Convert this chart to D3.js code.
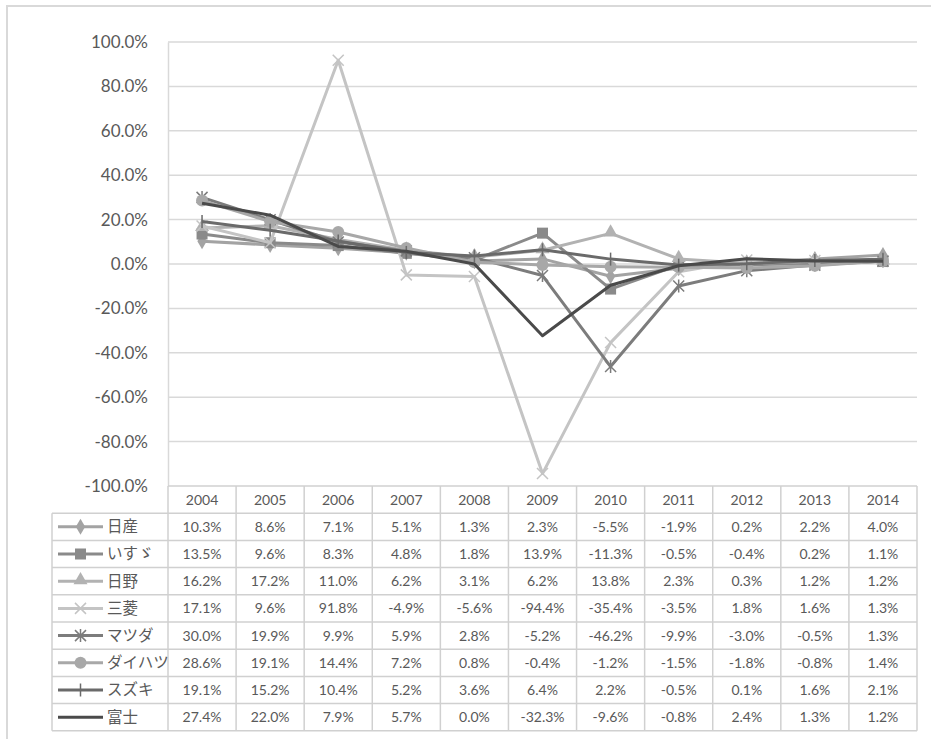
<!DOCTYPE html>
<html>
<head>
<meta charset="utf-8">
<script src="https://cdn.jsdelivr.net/npm/d3@7"></script>
<style>
  body { margin: 0; background: #fff; }
  text { font-family: "Lato", "Noto Sans CJK JP", sans-serif; fill: #595959; }
</style>
</head>
<body>
<script>
(function (d3) {
  "use strict";

  /***** Données *****/
  var years = ["2004", "2005", "2006", "2007", "2008", "2009", "2010", "2011", "2012", "2013", "2014"];
  var makers = ["日産", "いすゞ", "日野", "三菱", "マツダ", "ダイハツ", "スズキ", "富士"];
  var nissan   = [10.3, 8.6, 7.1, 5.1, 1.3, 2.3, -5.5, -1.9, 0.2, 2.2, 4.0];
  var isuzu    = [13.5, 9.6, 8.3, 4.8, 1.8, 13.9, -11.3, -0.5, -0.4, 0.2, 1.1];
  var hino     = [16.2, 17.2, 11.0, 6.2, 3.1, 6.2, 13.8, 2.3, 0.3, 1.2, 1.2];
  var mitsu    = [17.1, 9.6, 91.8, -4.9, -5.6, -94.4, -35.4, -3.5, 1.8, 1.6, 1.3];
  var mazda    = [30.0, 19.9, 9.9, 5.9, 2.8, -5.2, -46.2, -9.9, -3.0, -0.5, 1.3];
  var daihatsu = [28.6, 19.1, 14.4, 7.2, 0.8, -0.4, -1.2, -1.5, -1.8, -0.8, 1.4];
  var suzuki   = [19.1, 15.2, 10.4, 5.2, 3.6, 6.4, 2.2, -0.5, 0.1, 1.6, 2.1];
  var fuji     = [27.4, 22.0, 7.9, 5.7, 0.0, -32.3, -9.6, -0.8, 2.4, 1.3, 1.2];
  var yTicks = [100, 80, 60, 40, 20, 0, -20, -40, -60, -80, -100];

  var seriesValues = [nissan, isuzu, hino, mitsu, mazda, daihatsu, suzuki, fuji];
  var colors  = ["#a3a3a3", "#8a8a8a", "#b2b2b2", "#c4c4c4", "#7c7c7c", "#a8a8a8", "#6a6a6a", "#4a4a4a"];
  var markers = ["diamond", "square", "triangle", "x", "star", "circle", "plus", "none"];

  /***** Configuration *****/
  var width = 931, height = 739;
  var plot = { left: 168, right: 917, top: 42, bottom: 486 };
  var rowH = 27.2;
  var legendLeft = 52;

  var svg = d3.select("body").append("svg")
      .attr("width", width)
      .attr("height", height);

  // cadre extérieur
  svg.append("path")
      .attr("d", "M7,739 V6 H931")
      .attr("fill", "none")
      .attr("stroke", "#d9d9d9")
      .attr("stroke-width", 2);

  /***** Échelles *****/
  var xScale = d3.scaleBand().domain(years).range([plot.left, plot.right]);
  var yScale = d3.scaleLinear().domain([-100, 100]).range([plot.bottom, plot.top]);

  // grille
  svg.append("g").selectAll("line")
      .data(yTicks.filter(function (t) { return t !== -100; }))
      .join("line")
      .attr("x1", plot.left).attr("x2", plot.right)
      .attr("y1", function (d) { return yScale(d); })
      .attr("y2", function (d) { return yScale(d); })
      .attr("stroke", "#d9d9d9")
      .attr("stroke-width", 1.5);

  // axe Y
  var yAxis = d3.axisLeft(yScale)
      .tickValues(yTicks)
      .tickSize(0)
      .tickPadding(20)
      .tickFormat(function (d) { return d.toFixed(1) + "%"; });
  var yG = svg.append("g")
      .attr("transform", "translate(" + plot.left + ",0)")
      .call(yAxis);
  yG.select(".domain").attr("stroke", "#d9d9d9").attr("stroke-width", 1.5);
  yG.selectAll("text").style("font-size", "17px").attr("fill", "#595959");

  /***** Tableau de données *****/
  var table = svg.append("g");
  var lineC = "#d0d0d0";
  var tableBottom = plot.bottom + rowH * (makers.length + 1);

  // lignes horizontales
  for (var r = 0; r <= makers.length + 1; r++) {
    var yy = plot.bottom + r * rowH;
    table.append("line")
        .attr("x1", r === 0 ? plot.left : legendLeft).attr("x2", plot.right)
        .attr("y1", yy).attr("y2", yy)
        .attr("stroke", lineC).attr("stroke-width", 1.5);
  }
  // lignes verticales
  table.append("line")
      .attr("x1", legendLeft).attr("x2", legendLeft)
      .attr("y1", plot.bottom + rowH).attr("y2", tableBottom)
      .attr("stroke", lineC).attr("stroke-width", 1.5);
  years.forEach(function (yr) {
    var xx = xScale(yr);
    table.append("line")
        .attr("x1", xx).attr("x2", xx)
        .attr("y1", plot.bottom).attr("y2", tableBottom)
        .attr("stroke", lineC).attr("stroke-width", 1.5);
  });
  table.append("line")
      .attr("x1", plot.right).attr("x2", plot.right)
      .attr("y1", plot.bottom).attr("y2", tableBottom)
      .attr("stroke", lineC).attr("stroke-width", 1.5);

  // en-têtes des années
  table.selectAll("text.year")
      .data(years)
      .join("text")
      .attr("class", "year")
      .attr("x", function (d) { return xScale(d) + xScale.bandwidth() / 2; })
      .attr("y", plot.bottom + rowH / 2)
      .attr("dy", "0.35em")
      .attr("text-anchor", "middle")
      .style("font-size", "14px")
      .text(function (d) { return d; });

  /***** Symboles *****/
  function drawMarker(g, type, x, y, color) {
    var s = 5.5;
    if (type === "diamond") {
      g.append("path").attr("d", d3.symbol(d3.symbolDiamond, 75)())
          .attr("transform", "translate(" + x + "," + y + ")").attr("fill", color);
    } else if (type === "square") {
      g.append("rect").attr("x", x - s).attr("y", y - s).attr("width", 2 * s).attr("height", 2 * s).attr("fill", color);
    } else if (type === "triangle") {
      g.append("path").attr("d", d3.symbol(d3.symbolTriangle, 85)())
          .attr("transform", "translate(" + x + "," + (y - 1) + ")").attr("fill", color);
    } else if (type === "circle") {
      g.append("circle").attr("cx", x).attr("cy", y).attr("r", s + 0.5).attr("fill", color);
    } else if (type === "x" || type === "star" || type === "plus") {
      var d = "";
      if (type !== "plus") d += "M" + (x - s) + "," + (y - s) + "L" + (x + s) + "," + (y + s) + "M" + (x - s) + "," + (y + s) + "L" + (x + s) + "," + (y - s);
      if (type !== "x") d += "M" + x + "," + (y - s - 1) + "L" + x + "," + (y + s + 1);
      g.append("path").attr("d", d).attr("stroke", color).attr("stroke-width", 1.5).attr("fill", "none");
    }
  }

  // lignes du tableau : légende + valeurs
  makers.forEach(function (name, i) {
    var cy = plot.bottom + rowH * (i + 1.5);
    var lg = table.append("g");
    lg.append("line")
        .attr("x1", legendLeft + 6).attr("x2", legendLeft + 51)
        .attr("y1", cy).attr("y2", cy)
        .attr("stroke", colors[i]).attr("stroke-width", 3);
    drawMarker(lg, markers[i], legendLeft + 28.5, cy, colors[i]);
    lg.append("text")
        .attr("x", legendLeft + 55).attr("y", cy).attr("dy", "0.35em")
        .style("font-size", "15.5px")
        .text(name);

    table.selectAll(null)
        .data(seriesValues[i])
        .join("text")
        .attr("x", function (d, j) { return xScale(years[j]) + xScale.bandwidth() / 2; })
        .attr("y", cy).attr("dy", "0.35em")
        .attr("text-anchor", "middle")
        .style("font-size", "14px")
        .text(function (d) { return d.toFixed(1) + "%"; });
  });

  /***** Séries *****/
  var line = d3.line()
      .x(function (d, j) { return xScale(years[j]) + xScale.bandwidth() / 2; })
      .y(function (d) { return yScale(d); });

  var series = svg.append("g");
  seriesValues.forEach(function (vals, i) {
    var g = series.append("g");
    g.append("path")
        .attr("d", line(vals))
        .attr("fill", "none")
        .attr("stroke", colors[i])
        .attr("stroke-width", 3)
        .attr("stroke-linejoin", "round");
    vals.forEach(function (v, j) {
      drawMarker(g, markers[i], xScale(years[j]) + xScale.bandwidth() / 2, yScale(v), colors[i]);
    });
  });

})(d3);
</script>
</body>
</html>
